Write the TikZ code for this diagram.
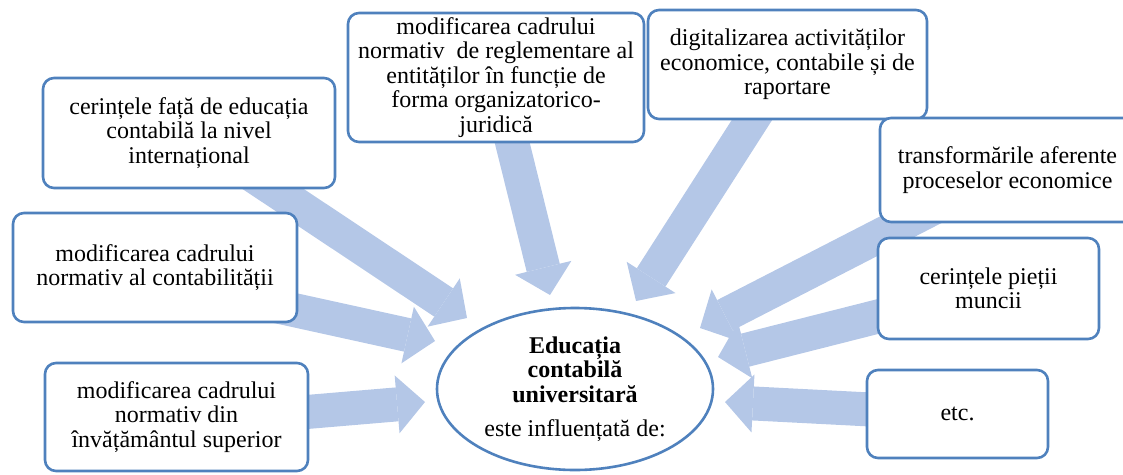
\documentclass[tikz,border=0pt]{standalone}
\usepackage{fontspec}
\setmainfont{Liberation Serif}
\usetikzlibrary{arrows.meta,shapes.geometric,backgrounds}
\definecolor{boxblue}{RGB}{79,129,189}
\definecolor{arrowblue}{RGB}{180,199,231}
\newcommand{\factorfont}{\fontsize{24}{24.5}\selectfont\lineskiplimit=-20pt\relax}
\tikzset{
  factor/.style={draw=boxblue, line width=2.6pt, rounded corners=11pt, fill=white, align=center, inner sep=0pt, font=\factorfont},
  influence/.style={draw=arrowblue, line width=34pt, -{Triangle[width=58pt, length=28pt, line width=0pt]}}
}
\begin{document}
\begin{tikzpicture}[x=1pt, y=-1pt]
\useasboundingbox (0,0) rectangle (1123,474);

\coordinate (tA) at (467,318);
\coordinate (tB) at (550,295);
\coordinate (tC) at (636,301);
\coordinate (tD) at (700,328);
\coordinate (tE) at (435,341);
\coordinate (tF) at (425,402);
\coordinate (tG) at (718,357);
\coordinate (tH) at (725,402);

\node [factor, minimum width=292, minimum height=110] (intl) at (189,133) {cerințele față de educația\\contabilă la nivel\\internațional};
\node [factor, minimum width=296, minimum height=129] (reglem) at (496,77.5) {modificarea cadrului\\normativ\ \ de reglementare al\\entităților în funcție de\\forma organizatorico-\\juridică};
\node [factor, minimum width=279, minimum height=109] (digit) at (787.5,64.5) {digitalizarea activităților\\economice, contabile și de\\raportare};
\node [factor, minimum width=255, minimum height=104] (transf) at (1007.5,170) {transformările aferente\\proceselor economice};
\node [factor, minimum width=284, minimum height=109] (contab) at (155,267.5) {modificarea cadrului\\normativ al contabilității};
\node [factor, minimum width=263, minimum height=108] (superior) at (176.5,417) {modificarea cadrului\\normativ din\\învățământul superior};
\node [factor, minimum width=221, minimum height=101] (piata) at (988.5,288.5) {cerințele pieții\\muncii};
\node [factor, minimum width=181, minimum height=88] (etc) at (957.5,414) {etc.};
\node [factor, ellipse, minimum width=276, minimum height=162] (educ) at (575,389) {\textbf{Educația}\\\textbf{contabilă}\\\textbf{universitară}\\[10pt]este influențată de:};

\begin{pgfonlayer}{background}
\draw [influence] (intl.center) -- (tA);
\draw [influence] (reglem.center) -- (tB);
\draw [influence] (digit.center) -- (tC);
\draw [influence] (transf.center) -- (tD);
\draw [influence] ([yshift=-12pt]contab.center) -- (tE);
\draw [influence] ([yshift=-6pt]superior.center) -- (tF);
\draw [influence] (piata.center) -- (tG);
\draw [influence] (etc.center) -- (tH);
\end{pgfonlayer}
\end{tikzpicture}
\end{document}
